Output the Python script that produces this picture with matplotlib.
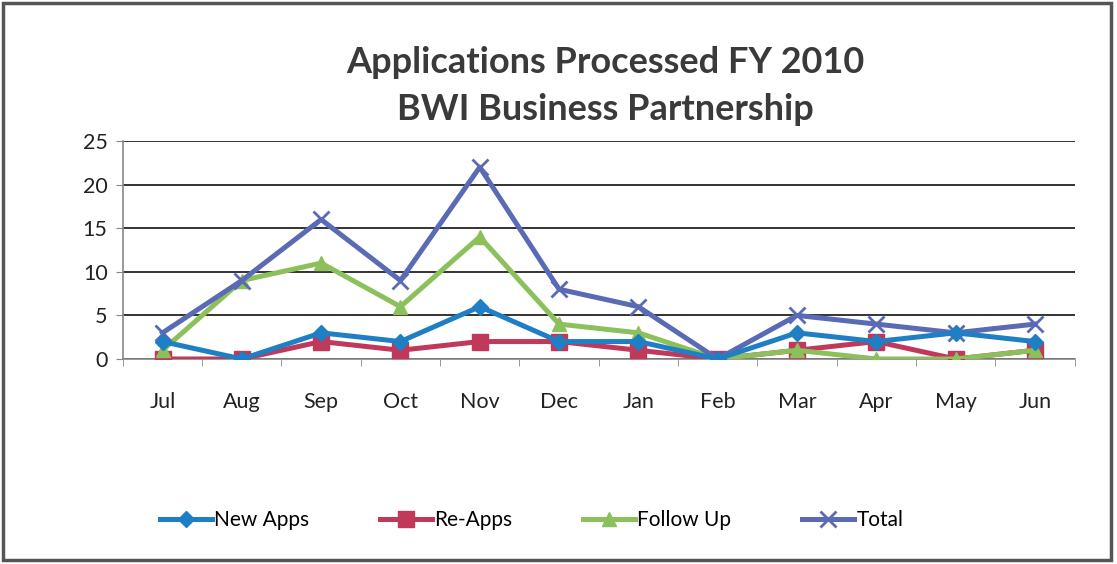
import matplotlib
matplotlib.use('Agg')
import matplotlib.pyplot as plt
from matplotlib.patches import Rectangle
import numpy as np

# Monthly counts, FY 2010
months = ['Jul', 'Aug', 'Sep', 'Oct', 'Nov', 'Dec', 'Jan', 'Feb', 'Mar', 'Apr', 'May', 'Jun']
new_apps = [2, 0, 3, 2, 6, 2, 2, 0, 3, 2, 3, 2]
re_apps = [0, 0, 2, 1, 2, 2, 1, 0, 1, 2, 0, 1]
follow_up = [1, 9, 11, 6, 14, 4, 3, 0, 1, 0, 0, 1]
total = [3, 9, 16, 9, 22, 8, 6, 0, 5, 4, 3, 4]

plt.rcParams['font.family'] = ['Lato', 'DejaVu Sans']

fig = plt.figure(figsize=(11.17, 5.64), dpi=100)
ax = fig.add_axes([0.110, 0.3635, 0.852, 0.3865])

x = np.arange(len(months))
ax.plot(x, new_apps, color='#1f7fc4', lw=3.6, marker='D', ms=8, label='New Apps', zorder=4)
ax.plot(x, re_apps, color='#c0385a', lw=3.6, marker='s', ms=11.5, label='Re-Apps', zorder=3)
ax.plot(x, follow_up, color='#8cc05a', lw=3.6, marker='^', ms=10, label='Follow Up', zorder=3)
ax.plot(x, total, color='#5a6ab4', lw=3.6, marker='x', ms=12, mew=2, label='Total', zorder=3)

ax.set_xlim(-0.5, len(months) - 0.5)
ax.set_ylim(0, 25)
ax.set_yticks(range(0, 26, 5))
ax.set_xticks(x)
ax.set_xticklabels(months)
ax.set_xticks(np.arange(-0.5, len(months), 1), minor=True)
ax.tick_params(axis='x', which='major', length=0, pad=24, labelsize=15.5, colors='#222222')
ax.tick_params(axis='x', which='minor', length=5, color='#888888', direction='out')
ax.tick_params(axis='y', length=5, color='#888888', labelsize=15.5, labelcolor='#222222', pad=6)
ax.grid(axis='y', color='#111111', lw=1.2)
ax.set_axisbelow(True)
for s in ['top', 'right']:
    ax.spines[s].set_visible(False)
ax.spines['left'].set_color('#888888')
ax.spines['bottom'].set_color('#888888')
ax.spines['left'].set_linewidth(1.2)
ax.spines['bottom'].set_linewidth(1.2)

fig.text(0.542, 0.889, 'Applications Processed FY 2010', ha='center', va='center',
         fontsize=26, fontweight='bold', color='#3a3a3a')
fig.text(0.542, 0.805, 'BWI Business Partnership', ha='center', va='center',
         fontsize=26, fontweight='bold', color='#3a3a3a')

fig.legend(loc='center', bbox_to_anchor=(0.476, 0.078), ncol=4, frameon=False,
           fontsize=15, handlelength=2.5, handletextpad=0.1, columnspacing=3.4)

fig.patches.append(Rectangle((0.003, 0.007), 0.992, 0.988, transform=fig.transFigure,
                             fill=False, edgecolor='#555555', lw=2.5))

fig.savefig('out.png', dpi=100)
